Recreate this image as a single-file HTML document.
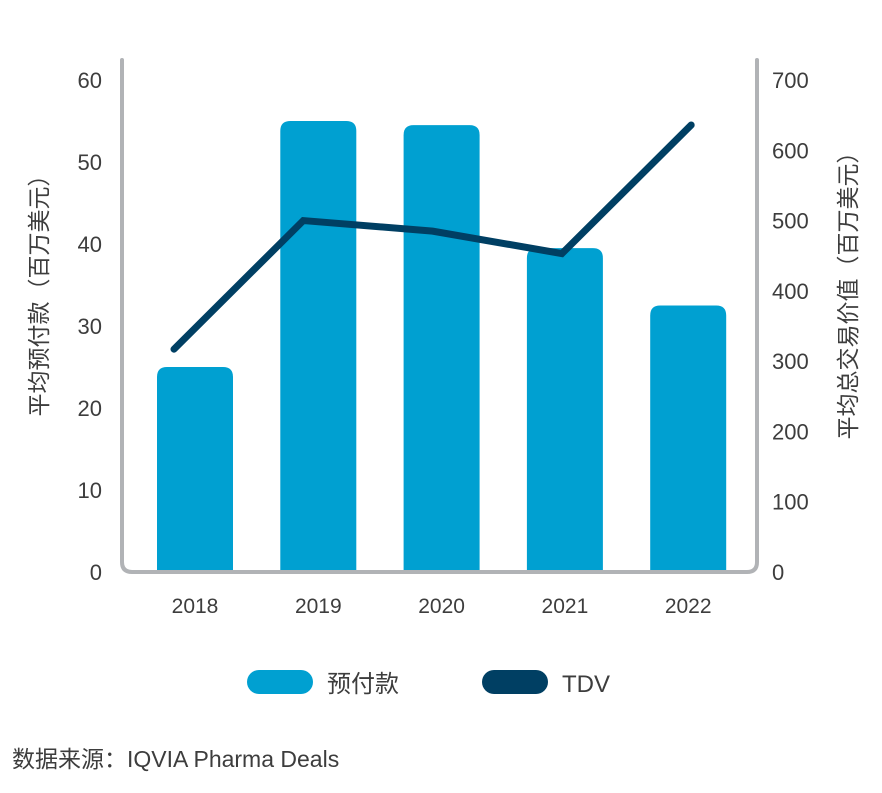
<!DOCTYPE html>
<html><head><meta charset="utf-8"><style>
body{margin:0;background:#fff;}
svg text{font-family:"Liberation Sans","Noto Sans CJK SC",sans-serif;fill:#3d3d3d;}
</style></head><body>
<svg width="882" height="788" viewBox="0 0 882 788">
<g id="bars"></g><g id="line"></g><g id="axes"></g>
</svg>
<script>
const categories=["2018","2019","2020","2021","2022"];
const upfront=[25,55,54.5,39.5,32.5];
const tdv=[317,500,485,453,636];
const leftTicks=[0,10,20,30,40,50,60];
const rightTicks=[0,100,200,300,400,500,600,700];
const NS="http://www.w3.org/2000/svg";
const y0=572;
function yL(v){return y0-v*8.2;}
function yR(v){return y0-v*(492/700);}
function xBar(i){return 195+i*123.3;}
function xLine(i){return 174+i*129.3;}
function mk(t,a,p){const e=document.createElementNS(NS,t);for(const k in a)e.setAttribute(k,a[k]);p.appendChild(e);return e;}
const bars=document.getElementById('bars'),line=document.getElementById('line'),axes=document.getElementById('axes');
upfront.forEach((v,i)=>{
 const w=76,x=xBar(i)-w/2,t=yL(v),r=10;
 const p=mk('path',{d:`M${x},${y0}V${t+r}Q${x},${t} ${x+r},${t}H${x+w-r}Q${x+w},${t} ${x+w},${t+r}V${y0}Z`,fill:'#00a0d1'},bars);
 
 
 const tx=mk('text',{x:xBar(i),y:613,'text-anchor':'middle','font-size':21},axes);tx.textContent=categories[i];
 
 
});
const pl=mk('polyline',{points:tdv.map((v,i)=>xLine(i)+','+yR(v)).join(' '),fill:'none',stroke:'#003f63','stroke-width':7,'stroke-linecap':'round','stroke-linejoin':'miter'},line);


const ax=mk('path',{d:'M122,60V562Q122,572 132,572H747Q757,572 757,562V60',fill:'none',stroke:'#b1b3b6','stroke-width':4,'stroke-linecap':'round'},axes);


leftTicks.forEach(v=>{const t=mk('text',{x:102,y:yL(v)+8,'text-anchor':'end','font-size':22},axes);t.textContent=v;
 
 });
rightTicks.forEach(v=>{const t=mk('text',{x:772,y:yR(v)+8,'font-size':22},axes);t.textContent=v;
 
 });
</script>
<svg style="position:absolute;left:0;top:0" width="882" height="788">
<text transform="translate(47,290) rotate(-90)" text-anchor="middle" font-size="23">平均预付款（百万美元）</text>
<text transform="translate(856,290) rotate(-90)" text-anchor="middle" font-size="23">平均总交易价值（百万美元）</text>
<rect x="247" y="670" width="66" height="24" rx="12" fill="#00a0d1"/>
<text x="327" y="692" font-size="24">预付款</text>
<rect x="482" y="670" width="66" height="24" rx="12" fill="#003f63"/>
<text x="562" y="692" font-size="24">TDV</text>
<text x="12" y="767" font-size="23">数据来源：IQVIA Pharma Deals</text>
</svg>
</body></html>
